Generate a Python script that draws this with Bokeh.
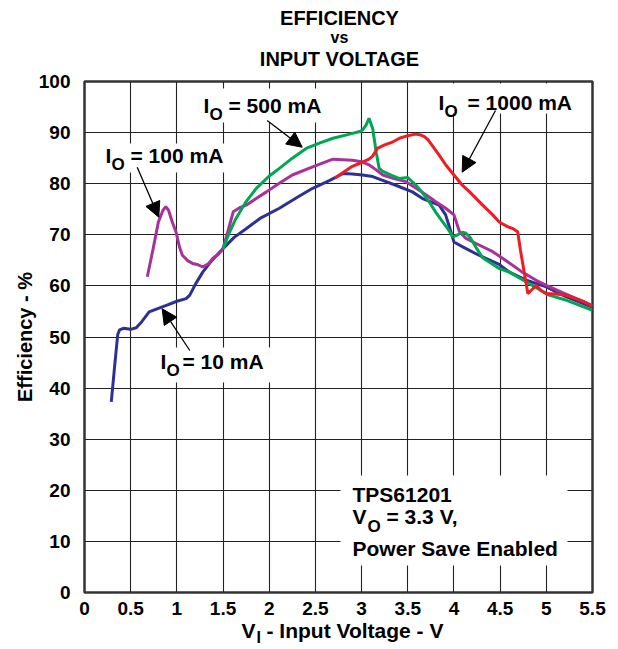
from bokeh.plotting import figure
from bokeh.layouts import column
from bokeh.models import Label, Arrow, NormalHead, BoxAnnotation, FixedTicker, Range1d
from bokeh.core.properties import value
from bokeh.embed import file_html
from bokeh.resources import INLINE

# ---------------- data ----------------
x_ticks = [0, 0.5, 1, 1.5, 2, 2.5, 3, 3.5, 4, 4.5, 5, 5.5]
x_tick_labels = ["0", "0.5", "1", "1.5", "2", "2.5", "3", "3.5", "4", "4.5", "5", "5.5"]
y_ticks = [0, 10, 20, 30, 40, 50, 60, 70, 80, 90, 100]

v_10ma = [0.29, 0.33, 0.36, 0.38, 0.42, 0.50, 0.56, 0.62, 0.70, 0.80, 0.90, 1.00, 1.10, 1.14,
          1.20, 1.28, 1.38, 1.50, 1.62, 1.75, 1.90, 2.11, 2.30, 2.47, 2.65, 2.80, 2.90, 3.01,
          3.12, 3.25, 3.37, 3.55, 3.66, 3.84, 3.91, 3.96, 4.00, 4.10, 4.27, 4.49, 4.60, 4.80,
          5.00, 5.20, 5.50]
eff_10ma = [37.3, 45.0, 50.5, 51.4, 51.7, 51.5, 51.8, 53.0, 54.9, 55.6, 56.3, 57.0, 57.5, 58.2,
            60.3, 62.7, 65.0, 67.3, 69.5, 71.2, 73.2, 75.2, 77.3, 79.1, 80.6, 82.0, 81.9, 81.7,
            81.4, 80.5, 79.7, 78.4, 77.1, 75.8, 73.9, 71.0, 68.6, 67.6, 66.0, 64.2, 62.7, 61.0,
            59.8, 58.0, 55.8]

v_100ma = [0.68, 0.74, 0.80, 0.85, 0.88, 0.91, 0.95, 0.99, 1.03, 1.06, 1.12, 1.17, 1.22, 1.28,
           1.34, 1.39, 1.45, 1.50, 1.55, 1.61, 1.68, 1.75, 1.85, 1.97, 2.10, 2.25, 2.47, 2.69,
           2.90, 3.00, 3.08, 3.15, 3.23, 3.35, 3.48, 3.60, 3.70, 3.80, 3.91, 4.00, 4.06, 4.13,
           4.25, 4.42, 4.60, 4.74, 4.90, 5.00, 5.20, 5.50]
eff_100ma = [61.8, 67.0, 72.5, 74.8, 75.5, 74.8, 72.5, 70.6, 67.5, 66.0, 64.9, 64.4, 64.2, 63.7,
             64.3, 65.4, 66.2, 67.3, 70.5, 74.5, 75.3, 75.8, 77.0, 78.4, 80.0, 81.7, 83.3, 84.8,
             84.6, 84.3, 83.7, 82.8, 81.7, 81.0, 80.4, 79.0, 77.8, 76.5, 75.2, 73.9, 70.6, 69.3,
             68.2, 66.7, 64.5, 62.7, 61.0, 60.1, 58.5, 56.2]

v_500ma = [1.50, 1.57, 1.64, 1.75, 1.86, 2.00, 2.11, 2.25, 2.40, 2.55, 2.69, 2.85, 2.98, 3.01,
           3.05, 3.08, 3.12, 3.16, 3.19, 3.23, 3.32, 3.41, 3.50, 3.59, 3.66, 3.73, 3.80, 3.88,
           3.94, 3.99, 4.04, 4.09, 4.13, 4.17, 4.24, 4.31, 4.49, 4.60, 4.78, 5.03, 5.20, 5.50]
eff_500ma = [67.3, 70.5, 73.2, 76.5, 79.1, 81.5, 83.0, 85.0, 86.9, 88.0, 88.9, 89.6, 90.2, 90.5,
             91.5, 92.8, 90.8, 86.0, 83.0, 82.4, 81.7, 81.0, 81.2, 79.7, 78.2, 76.5, 74.5, 72.5,
             71.0, 69.6, 70.0, 70.5, 70.3, 69.6, 67.5, 65.5, 63.4, 62.7, 60.8, 58.2, 57.3, 55.2]

v_1000ma = [2.71, 2.80, 2.90, 2.98, 3.08, 3.12, 3.17, 3.25, 3.34, 3.41, 3.50, 3.58, 3.63, 3.68,
            3.72, 3.84, 3.91, 4.09, 4.17, 4.30, 4.42, 4.49, 4.58, 4.64, 4.69, 4.72, 4.76, 4.80,
            4.84, 4.89, 4.95, 5.00, 5.10, 5.21, 5.32, 5.42, 5.50]
eff_1000ma = [81.1, 82.2, 83.4, 84.0, 84.8, 85.4, 86.9, 87.6, 88.2, 88.9, 89.4, 89.7, 89.6, 89.2,
              88.6, 85.6, 83.7, 79.7, 78.4, 76.0, 73.9, 72.5, 71.6, 71.2, 70.6, 67.0, 62.7, 58.5,
              59.2, 60.1, 59.0, 58.5, 58.4, 58.2, 57.5, 56.8, 55.9]

# ---------------- layout ----------------
FONT = "Liberation Sans"
TOP_H = 69            # title strip
BL, BR, BT, BB = 84, 18, 12, 26
FW, FH = 508, 511
W = BL + FW + BR
FRAME_L, FRAME_T = BL, TOP_H + BT       # page position of the plot frame
BOT_H = 30
X_MAX, Y_MAX = 5.5, 100.0
BASE_SHIFT = 0.36     # baseline correction (fraction of font size)


def dx(X):
    return (X - FRAME_L) / FW * X_MAX


def dy(Y):
    return (FRAME_T + FH - Y) / FH * Y_MAX


def strip(h, y0):
    # frame spans the same page columns as the main plot frame; coordinates are page pixels
    f = figure(width=W, height=h, x_range=Range1d(FRAME_L, FRAME_L + FW),
               y_range=Range1d(y0 + h, y0),
               output_backend="svg", toolbar_location=None, title=None,
               x_axis_location=None, y_axis_location=None,
               min_border_left=BL, min_border_right=BR, min_border_top=0, min_border_bottom=0)
    f.grid.visible = False
    f.outline_line_color = None
    f.background_fill_color = "white"
    f.border_fill_color = "white"
    return f


def stext(f, s, X, Y, size, align="left"):
    f.text(x=[X], y=[Y - BASE_SHIFT * size], text=[s], text_font=value(FONT),
           text_font_style="bold", text_font_size=f"{size}px", text_align=align,
           text_baseline="alphabetic", text_color="black")


# title strip
top = strip(TOP_H, 0)
stext(top, "EFFICIENCY", 339, 25, 20, "center")
stext(top, "vs", 339, 43, 16, "center")
stext(top, "INPUT VOLTAGE", 339, 66, 20, "center")

# main plot
p = figure(width=W, height=BT + FH + BB,
           x_range=Range1d(0, X_MAX), y_range=Range1d(0, Y_MAX),
           output_backend="svg", toolbar_location=None, title=None,
           min_border_left=BL, min_border_right=BR, min_border_top=BT, min_border_bottom=BB)

p.background_fill_color = "white"
p.border_fill_color = "white"
p.outline_line_color = "#333333"
p.outline_line_width = 2.5

p.xaxis.ticker = FixedTicker(ticks=x_ticks)
p.xaxis.major_label_overrides = {t: s for t, s in zip(x_ticks, x_tick_labels)}
p.yaxis.ticker = FixedTicker(ticks=y_ticks)
for ax in (p.xaxis, p.yaxis):
    ax.major_tick_line_color = None
    ax.minor_tick_line_color = None
    ax.axis_line_color = None
    ax.major_label_text_font = FONT
    ax.major_label_text_font_style = "bold"
    ax.major_label_text_font_size = "19px"
    ax.major_label_text_color = "black"
p.xaxis.major_label_standoff = 3
p.yaxis.major_label_standoff = 8
p.yaxis.axis_label = "Efficiency - %"
p.yaxis.axis_label_text_font = FONT
p.yaxis.axis_label_text_font_style = "bold"
p.yaxis.axis_label_text_font_size = "20px"
p.yaxis.axis_label_text_color = "black"
p.yaxis.axis_label_standoff = 0

p.xgrid.ticker = FixedTicker(ticks=x_ticks)
p.ygrid.ticker = FixedTicker(ticks=y_ticks)
for g in (p.xgrid, p.ygrid):
    g.grid_line_color = "#222222"
    g.grid_line_width = 1.1
    g.grid_line_alpha = 1.0

# white boxes behind the annotation texts (cut the grid)
boxes = [(155, 275, 347, 382),   # 10 mA
         (195, 335, 88, 122),    # 500 mA
         (430, 585, 83, 113),    # 1000 mA
         (100, 228, 143, 172),   # 100 mA
         (340, 567, 475, 565)]   # TPS box
for l, r, t, b in boxes:
    p.add_layout(BoxAnnotation(left=dx(l), right=dx(r), top=dy(t), bottom=dy(b),
                               fill_color="white", fill_alpha=1.0, line_color=None,
                               level="underlay"))

# curves
p.line(v_10ma, eff_10ma, line_color="#2E3192", line_width=3)
p.line(v_100ma, eff_100ma, line_color="#A8329A", line_width=3)
p.line(v_500ma, eff_500ma, line_color="#00A651", line_width=3)
p.line(v_1000ma, eff_1000ma, line_color="#EE1C25", line_width=3)


def txt(s, X, Y, size=21, align="left"):
    p.add_layout(Label(x=dx(X), y=dy(Y - BASE_SHIFT * size), text=s, text_font=FONT,
                       text_font_style="bold", text_font_size=f"{size}px", text_align=align,
                       text_baseline="alphabetic", text_color="black"))


def arrow(x0, y0, x1, y1):
    p.add_layout(Arrow(end=NormalHead(size=15, fill_color="black", line_color="black", line_width=1),
                       x_start=dx(x0), y_start=dy(y0), x_end=dx(x1), y_end=dy(y1),
                       line_color="black", line_width=1.3))


# curve labels
txt("I", 160, 369); txt("O", 166, 376, size=17); txt("= 10 mA", 182, 369)
txt("I", 203, 113); txt("O", 209, 120, size=17); txt("= 500 mA", 228, 113)
txt("I", 438, 110); txt("O", 444, 117, size=17); txt("= 1000 mA", 467, 110)
txt("I", 105, 163); txt("O", 111, 170, size=17); txt("= 100 mA", 130, 163)

arrow(266.7, 120, 301.7, 146.7)
arrow(495, 110, 461.7, 171.7)
arrow(136.7, 166.7, 158.3, 216.7)
arrow(189.3, 350, 161.7, 308.3)

# condition box
txt("TPS61201", 352, 502)
txt("V", 352, 524); txt("O", 367, 532, size=17); txt("= 3.3 V,", 386, 524)
txt("Power Save Enabled", 352, 556)

# x-axis label strip
bot_y0 = TOP_H + BT + FH + BB
bot = strip(BOT_H, bot_y0)
stext(bot, "V", 241, 638, 21)
stext(bot, "I", 256, 643, 16)
stext(bot, "- Input Voltage - V", 266, 638, 21)

layout = column(top, p, bot, spacing=0)
open("out.html", "w").write(file_html(layout, INLINE))
